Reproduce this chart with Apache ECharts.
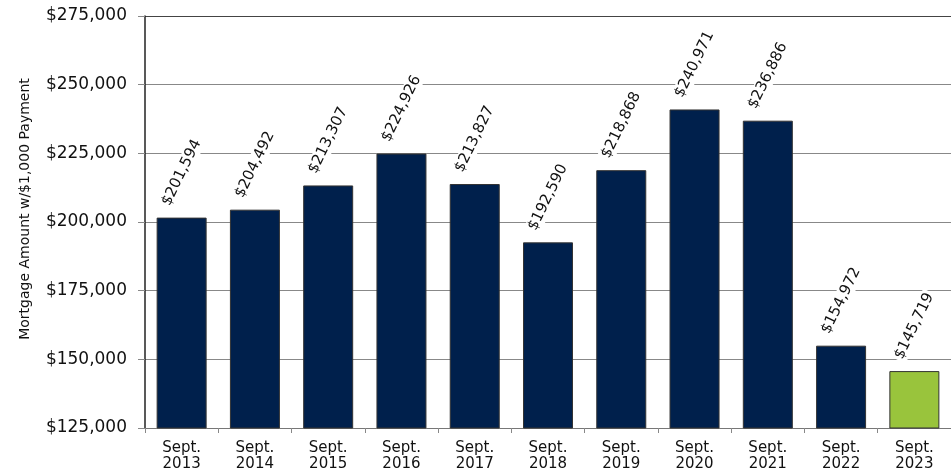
<!DOCTYPE html>
<html>
<head>
<meta charset="utf-8">
<script src="https://cdn.jsdelivr.net/npm/echarts@6/dist/echarts.min.js"></script>
<style>
html,body{margin:0;padding:0;background:#fff;}
#chart{width:951px;height:472px;}
</style>
</head>
<body>
<div id="chart"></div>
<script>
const years = ['2013','2014','2015','2016','2017','2018','2019','2020','2021','2022','2023'];
const categories = years.map(y => 'Sept.\n' + y);
const mortgageAmounts = [201594, 204492, 213307, 224926, 213827, 192590, 218868, 240971, 236886, 154972, 145719];
const yTicks = { min: 125000, max: 275000, interval: 25000 };
const yAxisTitle = 'Mortgage Amount w/$1,000 Payment';

const fmt = v => '$' + String(Math.round(v)).replace(/\B(?=(\d{3})+(?!\d))/g, ',');
const FONT = 'DejaVu Sans';

const chart = echarts.init(document.getElementById('chart'), null, {renderer: 'canvas'});
chart.setOption({
  animation: false,
  backgroundColor: '#ffffff',
  grid: { left: 145, right: -10, top: 16, bottom: 44, containLabel: false },
  xAxis: {
    type: 'category',
    data: categories,
    boundaryGap: true,
    axisLine: { show: true, lineStyle: { color: '#777', width: 1 } },
    axisTick: { show: true, length: 5, lineStyle: { color: '#888' } },
    axisLabel: { fontFamily: FONT, fontSize: 15, color: '#111', lineHeight: 16, margin: 12, interval: 0 },
    splitLine: { show: false }
  },
  yAxis: {
    type: 'value',
    min: yTicks.min, max: yTicks.max, interval: yTicks.interval,
    axisLine: { show: true, lineStyle: { color: '#222', width: 1.5 } },
    axisTick: { show: true, length: 7, lineStyle: { color: '#888' } },
    axisLabel: { fontFamily: FONT, fontSize: 17, color: '#111', margin: 18, formatter: v => fmt(v) },
    splitLine: { show: true, lineStyle: { color: ['#888','#888','#888','#888','#888','#888','#444'], width: 1 } }
  },
  graphic: [{
    type: 'text',
    x: 25.5, y: 209,
    rotation: Math.PI / 2,
    style: { text: yAxisTitle, fontFamily: FONT, fontSize: 14, fill: '#111', align: 'center', verticalAlign: 'middle' }
  }],
  series: [{
    type: 'bar',
    data: mortgageAmounts,
    barWidth: 50,
    itemStyle: {
      color: p => p.dataIndex === mortgageAmounts.length - 1 ? '#99C43C' : '#00204C',
      borderColor: '#333',
      borderWidth: 1
    },
    label: {
      show: true,
      position: 'top',
      distance: 45,
      rotate: 64,
      align: 'center',
      verticalAlign: 'middle',
      fontFamily: FONT,
      fontSize: 15,
      color: '#111',
      backgroundColor: '#fff',
      padding: [1, 2],
      formatter: p => fmt(p.value)
    }
  }]
});
</script>
</body>
</html>
